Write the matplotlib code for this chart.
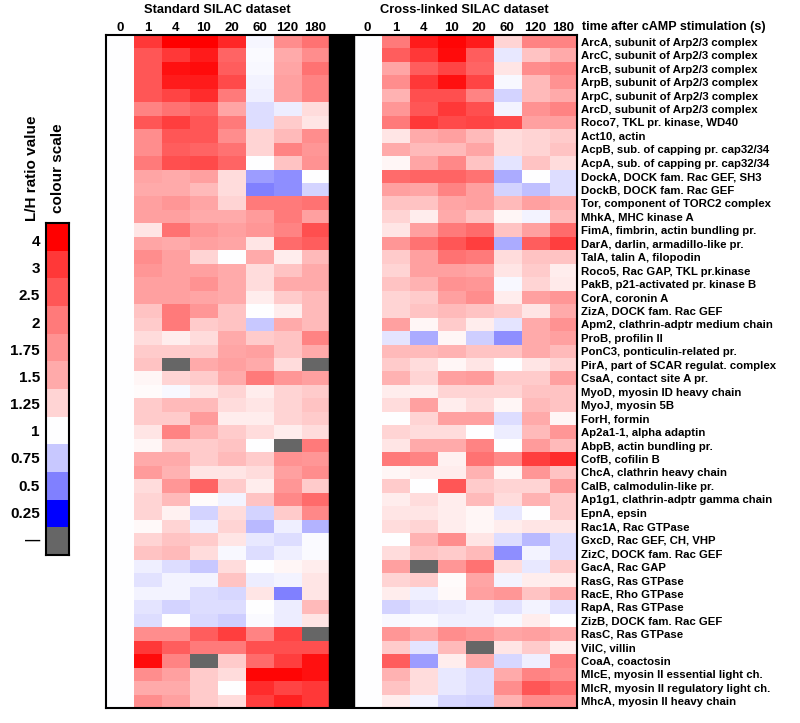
import numpy as np
import matplotlib
matplotlib.use("Agg")
import matplotlib.pyplot as plt
from matplotlib.colors import LinearSegmentedColormap
from matplotlib import font_manager

plt.rcParams['font.family'] = ['Liberation Sans', 'DejaVu Sans']
plt.rcParams['font.weight'] = 'bold'

# the heatmap labels in the original look horizontally squeezed
names = {f.name for f in font_manager.fontManager.ttflist}
if 'Liberation Sans Narrow' in names:
    narrow = ['Liberation Sans Narrow', 'Liberation Sans', 'DejaVu Sans']
    fs_row, fs_head, fs_title, fs_col = 9.9, 10.9, 11.2, 11
else:
    narrow = ['Liberation Sans', 'DejaVu Sans']
    fs_row, fs_head, fs_title, fs_col = 8.2, 9.0, 9.3, 9.5

nan = np.nan

times = ["0", "1", "4", "10", "20", "60", "120", "180"]

proteins = [
    "ArcA, subunit of Arp2/3 complex", "ArcC, subunit of Arp2/3 complex",
    "ArcB, subunit of Arp2/3 complex", "ArpB, subunit of Arp2/3 complex",
    "ArpC, subunit of Arp2/3 complex", "ArcD, subunit of Arp2/3 complex",
    "Roco7, TKL pr. kinase, WD40", "Act10, actin",
    "AcpB, sub. of capping pr. cap32/34", "AcpA, sub. of capping pr. cap32/34",
    "DockA, DOCK fam. Rac GEF, SH3", "DockB, DOCK fam. Rac GEF",
    "Tor, component of TORC2 complex", "MhkA, MHC kinase A",
    "FimA, fimbrin, actin bundling pr.", "DarA, darlin, armadillo-like pr.",
    "TalA, talin A, filopodin", "Roco5, Rac GAP, TKL pr.kinase",
    "PakB, p21-activated pr. kinase B", "CorA, coronin A",
    "ZizA, DOCK fam. Rac GEF", "Apm2, clathrin-adptr medium chain",
    "ProB, profilin II", "PonC3, ponticulin-related pr.",
    "PirA, part of SCAR regulat. complex", "CsaA, contact site A pr.",
    "MyoD, myosin ID heavy chain", "MyoJ, myosin 5B",
    "ForH, formin", "Ap2a1-1, alpha adaptin",
    "AbpB, actin bundling pr.", "CofB, cofilin B",
    "ChcA, clathrin heavy chain", "CalB, calmodulin-like pr.",
    "Ap1g1, clathrin-adptr gamma chain", "EpnA, epsin",
    "Rac1A, Rac GTPase", "GxcD, Rac GEF, CH, VHP",
    "ZizC, DOCK fam. Rac GEF", "GacA, Rac GAP",
    "RasG, Ras GTPase", "RacE, Rho GTPase",
    "RapA, Ras GTPase", "ZizB, DOCK fam. Rac GEF",
    "RasC, Ras GTPase", "VilC, villin",
    "CoaA, coactosin", "MlcE, myosin II essential light ch.",
    "MlcR, myosin II regulatory light ch.", "MhcA, myosin II heavy chain",
]

# L/H ratios, columns = times
standard = [
    [1, 3.0, 4.0, 4.0, 3.3, 0.96, 1.8, 2.1],
    [1, 2.5, 3.0, 3.5, 2.3, 0.98, 1.5, 1.8],
    [1, 2.5, 3.7, 3.8, 2.4, 0.97, 1.55, 2.1],
    [1, 2.5, 3.5, 3.5, 2.7, 0.95, 1.6, 1.9],
    [1, 2.5, 2.8, 3.2, 2.0, 0.93, 1.6, 1.9],
    [1, 1.9, 2.1, 2.3, 1.55, 0.85, 0.92, 1.2],
    [1, 2.5, 2.9, 2.5, 2.0, 0.85, 1.3, 1.15],
    [1, 1.8, 2.5, 2.5, 1.8, 1.25, 1.4, 1.8],
    [1, 1.8, 2.4, 2.3, 2.1, 1.25, 1.9, 1.7],
    [1, 2.0, 2.6, 2.7, 2.3, 1.0, 1.35, 1.75],
    [1, 1.55, 1.5, 1.6, 1.2, 0.6, 0.55, 1.0],
    [1, 1.5, 1.5, 1.4, 1.2, 0.5, 0.55, 0.8],
    [1, 1.6, 1.7, 1.55, 1.25, 2.0, 2.0, 2.1],
    [1, 1.6, 1.6, 1.5, 1.5, 1.65, 2.0, 1.6],
    [1, 1.15, 2.1, 1.7, 1.6, 1.7, 1.9, 2.6],
    [1, 1.55, 1.5, 1.6, 1.55, 1.15, 2.2, 2.4],
    [1, 1.8, 1.6, 1.25, 1.0, 1.5, 1.1, 1.4],
    [1, 1.7, 1.6, 1.6, 1.5, 1.2, 1.35, 1.5],
    [1, 1.6, 1.6, 1.75, 1.5, 1.2, 1.5, 1.5],
    [1, 1.6, 1.6, 1.55, 1.5, 1.1, 1.3, 1.4],
    [1, 1.35, 2.0, 1.7, 1.35, 1.0, 1.1, 1.4],
    [1, 1.3, 2.0, 1.3, 1.35, 0.75, 1.5, 1.4],
    [1, 1.2, 1.1, 1.2, 1.5, 1.3, 1.35, 1.9],
    [1, 1.3, 1.3, 1.3, 1.55, 1.6, 1.35, 1.5],
    [1, 1.35, nan, 1.5, 1.6, 1.5, 1.2, nan],
    [1, 1.05, 1.25, 1.3, 1.5, 2.0, 1.7, 1.6],
    [1, 1.02, 0.97, 1.15, 1.25, 1.1, 1.25, 1.3],
    [1, 1.3, 1.4, 1.4, 1.2, 1.15, 1.25, 1.35],
    [1, 1.3, 1.3, 1.65, 1.1, 1.1, 1.25, 1.3],
    [1, 1.15, 1.9, 1.45, 1.3, 1.2, 1.1, 1.2],
    [1, 1.05, 1.3, 1.3, 1.35, 1.0, nan, 2.0],
    [1, 1.5, 1.5, 1.3, 1.4, 1.3, 1.75, 1.7],
    [1, 1.65, 1.45, 1.15, 1.15, 1.2, 1.6, 1.8],
    [1, 1.2, 1.7, 2.3, 1.3, 1.1, 1.7, 1.3],
    [1, 1.25, 1.4, 1.02, 0.95, 1.35, 1.85, 2.2],
    [1, 1.25, 1.08, 0.8, 1.2, 0.8, 1.3, 1.85],
    [1, 1.03, 1.25, 0.93, 1.25, 0.7, 0.93, 0.68],
    [1, 1.25, 1.35, 1.3, 1.15, 0.9, 0.85, 0.98],
    [1, 1.35, 1.4, 1.2, 0.97, 0.85, 0.93, 0.98],
    [1, 0.93, 0.85, 0.75, 1.2, 1.0, 1.05, 1.1],
    [1, 0.87, 0.95, 0.95, 1.35, 0.92, 0.95, 1.15],
    [1, 0.95, 0.95, 0.85, 0.82, 1.15, 0.5, 1.15],
    [1, 0.88, 0.8, 0.85, 0.85, 1.0, 0.92, 1.4],
    [1, 0.85, 1.0, 0.83, 0.78, 0.98, 0.92, 1.15],
    [1, 1.8, 1.8, 2.4, 2.9, 1.9, 2.8, nan],
    [1, 3.0, 2.4, 2.0, 2.0, 2.6, 2.6, 2.6],
    [1, 3.8, 1.9, nan, 1.3, 2.2, 2.9, 3.7],
    [1, 1.8, 1.6, 1.3, 1.2, 3.9, 3.9, 3.7],
    [1, 1.5, 1.5, 1.3, 1.0, 3.2, 2.8, 3.0],
    [1, 1.8, 1.6, 1.3, 1.2, 2.9, 3.4, 3.0],
]

crosslinked = [
    [1, 2.0, 3.5, 3.9, 3.5, 1.25, 1.9, 1.9],
    [1, 2.4, 3.0, 3.8, 2.4, 0.9, 1.35, 1.5],
    [1, 1.55, 2.4, 2.8, 2.3, 1.15, 1.8, 1.9],
    [1, 1.8, 3.0, 3.7, 2.8, 0.97, 1.4, 1.75],
    [1, 1.45, 2.6, 2.6, 1.9, 0.8, 1.4, 1.5],
    [1, 1.7, 2.5, 3.0, 2.6, 0.95, 1.75, 1.9],
    [1, 2.0, 3.0, 2.7, 2.8, 2.7, 1.6, 1.6],
    [1, 1.15, 1.5, 1.6, 1.4, 1.2, 1.25, 1.3],
    [1, 1.5, 1.4, 1.4, 1.55, 1.2, 1.25, 1.35],
    [1, 1.05, 1.55, 1.85, 1.35, 0.88, 1.35, 1.2],
    [1, 2.2, 2.3, 2.3, 2.1, 0.65, 1.0, 0.85],
    [1, 1.6, 1.55, 1.9, 1.6, 0.8, 0.72, 0.85],
    [1, 1.35, 1.35, 1.55, 1.6, 1.4, 1.6, 1.5],
    [1, 1.25, 1.1, 1.5, 1.35, 1.05, 0.95, 1.4],
    [1, 1.15, 1.6, 2.0, 2.2, 1.35, 1.6, 2.2],
    [1, 1.7, 2.1, 2.5, 2.9, 0.65, 2.4, 2.9],
    [1, 1.3, 1.6, 2.1, 2.0, 1.2, 1.35, 1.35],
    [1, 1.25, 1.6, 1.6, 1.55, 1.15, 1.3, 1.1],
    [1, 1.35, 1.45, 1.75, 1.7, 0.97, 1.25, 1.12],
    [1, 1.25, 1.3, 1.6, 1.8, 1.1, 1.6, 1.7],
    [1, 1.25, 1.35, 1.4, 1.35, 1.3, 1.15, 1.5],
    [1, 1.6, 1.05, 1.3, 1.1, 0.88, 1.5, 1.75],
    [1, 0.88, 0.65, 1.05, 0.78, 0.55, 1.5, 1.6],
    [1, 1.4, 1.4, 1.45, 1.35, 1.35, 1.5, 1.4],
    [1, 1.3, 1.2, 1.05, 1.15, 1.0, 1.15, 1.25],
    [1, 1.45, 1.25, 1.6, 1.65, 1.3, 1.3, 1.6],
    [1, 1.1, 1.1, 1.25, 1.25, 1.25, 1.35, 1.35],
    [1, 1.2, 1.6, 1.1, 1.2, 1.05, 1.4, 1.35],
    [1, 1.0, 1.25, 1.6, 1.6, 0.85, 1.5, 1.05],
    [1, 1.25, 1.2, 1.2, 1.0, 0.92, 1.4, 1.7],
    [1, 1.15, 1.5, 1.5, 1.9, 1.0, 1.65, 1.4],
    [1, 2.0, 1.9, 1.08, 2.1, 1.85, 2.9, 3.2],
    [1, 1.05, 1.1, 1.1, 1.45, 1.05, 1.7, 1.35],
    [1, 1.3, 1.0, 2.5, 1.3, 1.25, 1.25, 1.65],
    [1, 1.1, 1.2, 1.1, 1.4, 1.2, 1.45, 1.3],
    [1, 1.15, 1.15, 1.1, 1.05, 0.9, 1.0, 1.3],
    [1, 1.2, 1.25, 1.1, 1.05, 1.1, 1.15, 1.15],
    [1, 1.0, 1.45, 1.8, 1.15, 0.85, 0.7, 0.85],
    [1, 1.2, 1.35, 1.3, 1.4, 0.55, 0.95, 0.85],
    [1, 1.6, nan, 1.7, 2.1, 1.2, 0.9, 1.3],
    [1, 1.25, 1.3, 1.02, 1.55, 0.95, 1.1, 1.1],
    [1, 1.1, 0.93, 1.03, 1.6, 1.7, 1.35, 1.5],
    [1, 0.8, 0.88, 0.9, 0.93, 0.87, 0.95, 0.87],
    [1, 0.97, 0.98, 0.93, 0.93, 0.97, 1.1, 1.0],
    [1, 1.7, 1.5, 1.8, 1.7, 1.55, 1.6, 1.5],
    [1, 1.3, 0.88, 1.4, nan, 1.15, 1.3, 1.1],
    [1, 2.4, 0.6, 1.1, 1.5, 0.82, 0.93, 1.9],
    [1, 1.45, 1.2, 0.9, 0.85, 1.5, 1.9, 1.8],
    [1, 1.35, 1.2, 0.9, 0.85, 1.8, 2.5, 2.2],
    [1, 1.1, 0.95, 0.82, 0.8, 1.45, 1.8, 1.8],
]

scale_ratios = [0.25, 0.5, 0.75, 1, 1.25, 1.5, 1.75, 2, 2.5, 3, 4]
scale_labels = ["4", "3", "2.5", "2", "1.75", "1.5", "1.25", "1", "0.75", "0.5", "0.25", "\u2014"]
scale_colours = ['#0000ff', '#8080ff', '#c8c8ff', '#ffffff', '#ffd4d4',
                 '#ffaaaa', '#ff9292', '#ff7a7a', '#ff5656', '#ff3838', '#ff0000']

# N=1001 so that ratio 1 (level 0.3) lands exactly on white
cmap = LinearSegmentedColormap.from_list('lh', scale_colours, N=1001)
cmap.set_bad('#666666')


def to_level(vals):
    a = np.array(vals, dtype=float)
    lev = np.interp(a, scale_ratios, np.arange(len(scale_ratios))) / 10.0
    lev[np.isnan(a)] = nan
    return lev


W, H = 800, 723
fig = plt.figure(figsize=(W / 100, H / 100), dpi=100)

# main heatmap
left, right, top, bottom = 106, 577, 35, 708
ax = fig.add_axes([left / W, 1 - bottom / H, (right - left) / W, (bottom - top) / H])
gap = 0.87
n = len(proteins)
ax.imshow(to_level(standard), cmap=cmap, vmin=0, vmax=1, aspect='auto',
          extent=(0, 8, n, 0), interpolation='nearest')
ax.imshow(to_level(crosslinked), cmap=cmap, vmin=0, vmax=1, aspect='auto',
          extent=(8 + gap, 16 + gap, n, 0), interpolation='nearest')
ax.axvspan(8, 8 + gap, color='black')
ax.set_xlim(0, 16 + gap)
ax.set_ylim(n, 0)

xt = list(np.arange(8) + 0.5) + list(np.arange(8) + 8.5 + gap)
ax.xaxis.tick_top()
ax.set_xticks(xt)
ax.set_xticklabels(times + times, fontsize=fs_col, fontweight='bold', family=narrow)
ax.yaxis.tick_right()
ax.set_yticks(np.arange(n) + 0.5)
ax.set_yticklabels(proteins, fontsize=fs_row, fontweight='bold', family=narrow)
ax.tick_params(axis='y', length=0, pad=3)
ax.tick_params(axis='x', length=0, pad=1)
for s in ax.spines.values():
    s.set_linewidth(1.5)

fig.text(582 / W, 1 - 27 / H, "time after cAMP stimulation (s)", ha='left', va='center',
         fontsize=fs_head, fontweight='bold', family=narrow)
fig.text(217 / W, 1 - 10 / H, "Standard SILAC dataset", ha='center', va='center',
         fontsize=fs_title, fontweight='bold', family=narrow)
fig.text(464 / W, 1 - 10 / H, "Cross-linked SILAC dataset", ha='center', va='center',
         fontsize=fs_title, fontweight='bold', family=narrow)

# colour scale legend
lt, lb = 223, 555
lax = fig.add_axes([46 / W, 1 - lb / H, 23 / W, (lb - lt) / H])
legend_vals = list(np.arange(10, -1, -1) / 10.0) + [nan]
lax.imshow(np.array(legend_vals).reshape(-1, 1), cmap=cmap, vmin=0, vmax=1,
           aspect='auto', extent=(0, 1, 12, 0), interpolation='nearest')
lax.set_xticks([])
lax.set_yticks([])
for s in lax.spines.values():
    s.set_linewidth(1.5)
label_y = np.linspace(242, 541, len(scale_labels))
for y, lab in zip(label_y, scale_labels):
    fig.text(40 / W, 1 - y / H, lab, ha='right', va='center',
             fontsize=11, fontweight='bold')

fig.text(32 / W, 1 - 221 / H, "L/H ratio value", rotation=90, ha='center', va='bottom',
         fontsize=11, fontweight='bold')
fig.text(58 / W, 1 - 213 / H, "colour scale", rotation=90, ha='center', va='bottom',
         fontsize=11, fontweight='bold')

fig.savefig("out.png", dpi=100)
